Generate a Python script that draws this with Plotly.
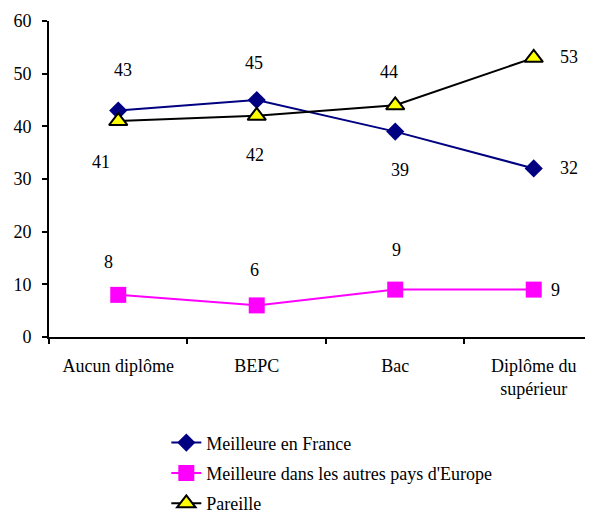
import plotly.graph_objects as go

categories = ["Aucun diplôme", "BEPC", "Bac", "Diplôme du<br>supérieur"]
france = [43, 45, 39, 32]
europe = [8, 6, 9, 9]
pareille = [41, 42, 44, 53]
series_names = ["Meilleure en France", "Meilleure dans les autres pays d'Europe", "Pareille"]

# label offsets (pixels) per series and point
france_off = [(5, 41), (-3, 37), (5, -38), (35, 0)]
europe_off = [(-10, 33), (-2, 35), (1, 40), (22, 0)]
pareille_off = [(-17, -41), (-2, -39), (-6, 33), (35, 1)]

FONT = "Liberation Serif"
FS = 18

fig = go.Figure()
fig.add_trace(go.Scatter(x=categories, y=france, name=series_names[0], mode="lines+markers",
                         line=dict(color="#000080", width=2),
                         marker=dict(symbol="diamond", size=14, color="#000080"),
                         legendgroup="a"))
fig.add_trace(go.Scatter(x=categories, y=europe, name=series_names[1], mode="lines+markers",
                         line=dict(color="#FF00FF", width=2),
                         marker=dict(symbol="square", size=16, color="#FF00FF"),
                         legendgroup="b"))
fig.add_trace(go.Scatter(x=categories, y=pareille, name=series_names[2], mode="lines+markers",
                         line=dict(color="#000000", width=2),
                         marker=dict(symbol="triangle-up", size=16, color="#FFFF00",
                                     line=dict(color="#000000", width=2)),
                         legendgroup="c"))

annotations = []
for vals, offs in ((france, france_off), (europe, europe_off), (pareille, pareille_off)):
    for c, v, (dx, dy) in zip(categories, vals, offs):
        annotations.append(dict(x=c, y=v, text=str(v), showarrow=False,
                                xshift=dx, yshift=dy,
                                font=dict(family=FONT, size=FS, color="#000000")))

fig.update_layout(
    width=593, height=514,
    margin=dict(l=41, r=8, t=13, b=185, autoexpand=False),
    paper_bgcolor="white", plot_bgcolor="white",
    font=dict(family=FONT, size=FS, color="#000000"),
    annotations=annotations,
    showlegend=True,
    legend=dict(x=0.267, y=0.19, xref="container", yref="container",
                xanchor="left", yanchor="top",
                font=dict(family=FONT, size=FS, color="#000000"),
                tracegroupgap=4, bgcolor="rgba(0,0,0,0)"),
    xaxis=dict(type="category", range=[-0.5, 3.428], showline=True, linecolor="black",
               linewidth=2, ticks="outside", tickson="boundaries", ticklen=5,
               tickwidth=2, tickcolor="black", showgrid=False, zeroline=False,
               automargin=False, ticklabelstandoff=11,
               tickfont=dict(family=FONT, size=FS)),
    yaxis=dict(range=[0, 60], dtick=10, showline=True, linecolor="black", linewidth=2,
               ticks="outside", ticklen=5, tickwidth=2, tickcolor="black",
               showgrid=False, zeroline=False, automargin=False, ticklabelstandoff=7,
               tickfont=dict(family=FONT, size=FS)),
)

fig.write_html("out.html")
